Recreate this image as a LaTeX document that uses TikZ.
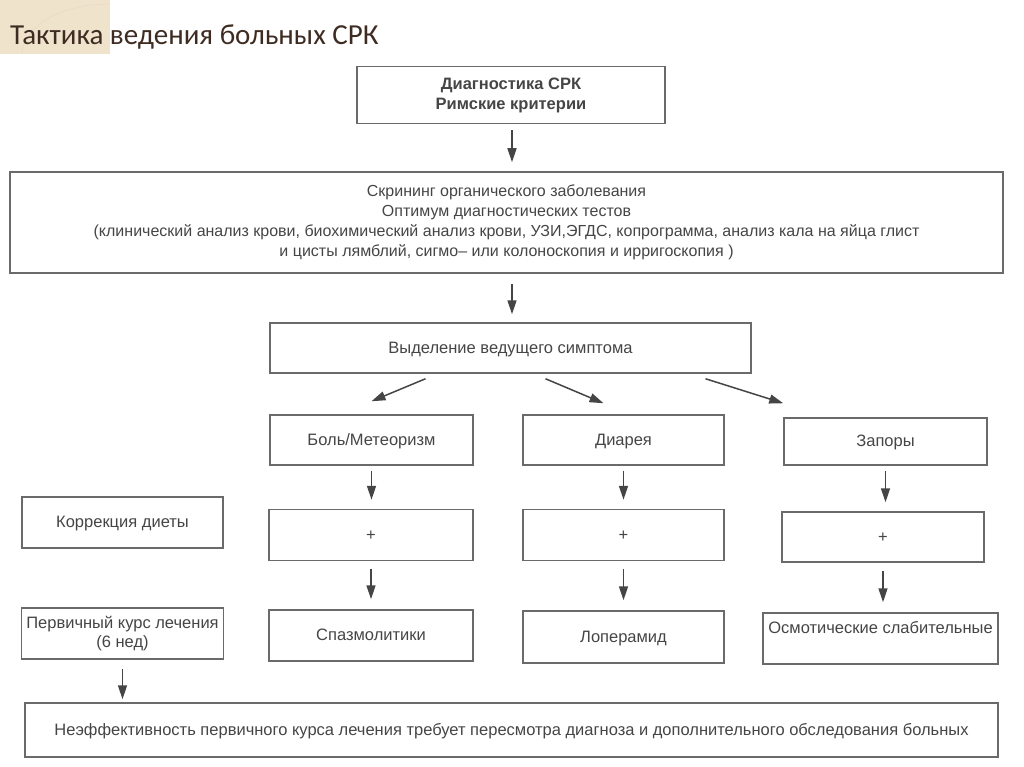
\documentclass[tikz,border=0pt]{standalone}
\usepackage{fontspec}
\setmainfont{Liberation Sans}
\newfontfamily\titlefont{Carlito}
\usetikzlibrary{arrows.meta,calc}

\definecolor{ink}{HTML}{454545}
\definecolor{frame}{HTML}{6A6A6A}
\definecolor{titlebrown}{HTML}{3E2C22}
\definecolor{beige}{HTML}{EFE3CC}

\tikzset{
  box/.style={draw=frame, line width=1.5pt, text=ink, align=center,
    inner sep=2pt, font=\fontsize{16.5}{19}\selectfont},
  cell/.style={box, text height=11pt, text depth=1pt},
  arr/.style={->, draw=ink, line width=1.5pt},
}

\begin{document}
\begin{tikzpicture}[x=1pt,y=-1pt,>={Triangle[length=14pt,width=9pt]}]
    \useasboundingbox (0,0) rectangle (1024,767);

    % title corner
    \fill[beige] (0,0) rectangle (110,54);
    \draw[beige!70!brown!60!white, line width=1pt] (22,54) arc (180:270:88 and 50);

    \node[anchor=base west, text=titlebrown, inner sep=0pt,
      font=\titlefont\fontsize{29}{32}\selectfont] (title) at (10,45)
      {Тактика ведения больных СРК};

    % diagnostics
    \node[box, minimum width=308, minimum height=57,
      font=\bfseries\fontsize{16.5}{20}\selectfont] (diag) at (511,95)
      {Диагностика СРК\\Римские критерии};
    \node[box, minimum width=993, minimum height=101,
      font=\fontsize{16}{20}\selectfont] (screen) at (506.5,222.5)
      {Скрининг органического заболевания\\
       Оптимум диагностических тестов\\
       (клинический анализ крови, биохимический анализ крови, УЗИ,ЭГДС, копрограмма, анализ кала на яйца глист\\
       и цисты лямблий, сигмо-- или колоноскопия и ирригоскопия )};
    \node[cell, minimum width=481, minimum height=50] (lead) at (510.5,348)
      {Выделение ведущего симптома};

    % symptoms
    \node[cell, minimum width=203, minimum height=50] (pain) at (371.5,440) {Боль/Метеоризм};
    \node[cell, minimum width=201, minimum height=50] (diar) at (623.5,440) {Диарея};
    \node[cell, minimum width=203, minimum height=47] (constip) at (885.5,441.5) {Запоры};

    \node[cell, minimum width=204, minimum height=51] (plusA) at (371,535) {+};
    \node[cell, minimum width=201, minimum height=51] (plusB) at (623.5,535) {+};
    \node[cell, minimum width=202, minimum height=50] (plusC) at (883,537) {+};

    \node[cell, minimum width=204, minimum height=51] (spasm) at (371,635.5) {Спазмолитики};
    \node[cell, minimum width=201, minimum height=52] (loper) at (623.5,637) {Лоперамид};
    \node[cell, minimum width=235, minimum height=51, text depth=22pt] (osmo) at (880.5,638.5)
      {Осмотические слабительные};

    % left column
    \node[cell, minimum width=201, minimum height=51] (diet) at (122.5,522.5) {Коррекция диеты};
    \node[box, minimum width=202, minimum height=51] (course) at (122.5,633.5)
      {Первичный курс лечения\\(6 нед)};

    \node[cell, minimum width=973, minimum height=54] (final) at (511.5,730)
      {Неэффективность первичного курса лечения требует пересмотра диагноза и дополнительного обследования больных};

    % connectors
    \draw[arr, shorten <=6pt, shorten >=9pt] (diag.south -| 512,0) -- (screen.north -| 512,0);
    \draw[arr, shorten <=10pt, shorten >=8pt] (screen.south -| 512,0) -- (lead.north -| 512,0);

    \draw[arr] ($(lead.south)+(-85,5)$) -- ($(pain.north)+(0,-13)$);
    \draw[arr] ($(lead.south)+(35,5)$) -- ($(diar.north)+(-20,-11)$);
    \draw[arr] ($(lead.south)+(195,5)$) -- ($(constip.north west)+(0,-14)$);

    \foreach \a/\b in {pain/plusA, diar/plusB, constip/plusC}
      \draw[arr, shorten <=5pt, shorten >=9pt] (\a.south) -- (\a.south |- \b.north);
    \foreach \a/\b in {plusA/spasm, plusB/loper, plusC/osmo}
      \draw[arr, shorten <=8pt, shorten >=10pt] (\a.south) -- (\a.south |- \b.north);

    \draw[arr, shorten <=9pt, shorten >=3pt] (course.south) -- (course.south |- final.north);
\end{tikzpicture}
\end{document}
